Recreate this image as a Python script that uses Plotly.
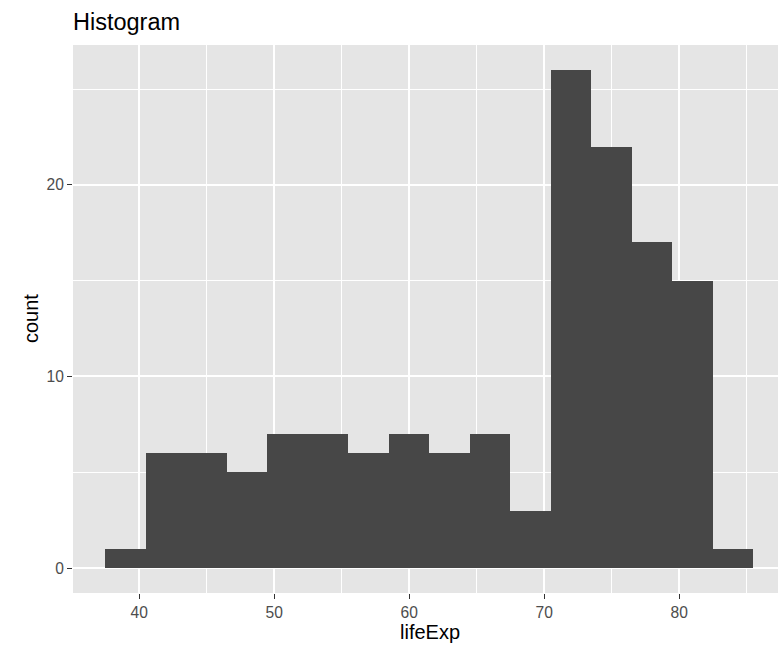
import plotly.graph_objects as go

# Data (gapminder 2007 life expectancy histogram, binwidth 3)
bin_centers = [39, 42, 45, 48, 51, 54, 57, 60, 63, 66, 69, 72, 75, 78, 81, 84]
counts = [1, 6, 6, 5, 7, 7, 6, 7, 6, 7, 3, 26, 22, 17, 15, 1]
binwidth = 3
x_ticks = [40, 50, 60, 70, 80]
y_ticks = [0, 10, 20]

W, H = 778, 647
L, R, T, B = 73, 0, 45, 54

FONT = "Liberation Sans, Arial, Helvetica, sans-serif"

fig = go.Figure()
fig.add_trace(go.Bar(
    x=bin_centers, y=counts, width=binwidth,
    marker=dict(color="#474747", line=dict(width=0)),
    hoverinfo="x+y",
))

x0 = 37.5 - 0.05 * 48
px_per_unit = 13.5
x1 = x0 + (W - L - R) / px_per_unit
ymax = max(counts)

fig.update_layout(
    width=W, height=H,
    margin=dict(l=L, r=R, t=T, b=B, pad=0),
    paper_bgcolor="white",
    plot_bgcolor="#E5E5E5",
    showlegend=False,
    bargap=0,
    font=dict(family=FONT),
    title=dict(text="Histogram", x=0, xref="paper", xanchor="left",
               y=1 - 22 / H, yref="container", yanchor="middle",
               font=dict(size=23.5, color="black", family=FONT)),
    xaxis=dict(
        range=[x0, x1], tickmode="array", tickvals=x_ticks,
        ticktext=[str(v) for v in x_ticks],
        showgrid=True, gridcolor="white", gridwidth=2,
        zeroline=False, showline=False,
        ticks="outside", ticklen=5, tickwidth=1.1, tickcolor="#333333",
        tickfont=dict(size=15.6, color="#4D4D4D"),
        minor=dict(tickmode="array", tickvals=[35, 45, 55, 65, 75, 85],
                   showgrid=True, gridcolor="white", gridwidth=1, ticks=""),
        fixedrange=True,
    ),
    yaxis=dict(
        range=[-0.05 * ymax, ymax * 1.05], tickmode="array", tickvals=y_ticks,
        ticktext=[str(v) for v in y_ticks],
        showgrid=True, gridcolor="white", gridwidth=2,
        zeroline=False, showline=False,
        ticks="outside", ticklen=5, tickwidth=1.1, tickcolor="#333333",
        tickfont=dict(size=15.6, color="#4D4D4D"),
        minor=dict(tickmode="array", tickvals=[5, 15, 25],
                   showgrid=True, gridcolor="white", gridwidth=1, ticks=""),
        fixedrange=True,
    ),
    annotations=[
        dict(text="lifeExp", xref="paper", yref="paper",
             x=(430 - L) / (W - L - R), y=(H - B - 632) / (H - T - B),
             xanchor="center", yanchor="middle", showarrow=False,
             font=dict(size=20, color="black", family=FONT)),
        dict(text="count", xref="paper", yref="paper", textangle=-90,
             x=(31 - L) / (W - L - R), y=0.5,
             xanchor="center", yanchor="middle", showarrow=False,
             font=dict(size=20, color="black", family=FONT)),
    ],
)

fig.write_html(
    "out.html",
    config={"displayModeBar": False},
    post_script="document.body.style.margin='0';document.body.style.overflow='hidden';",
)
